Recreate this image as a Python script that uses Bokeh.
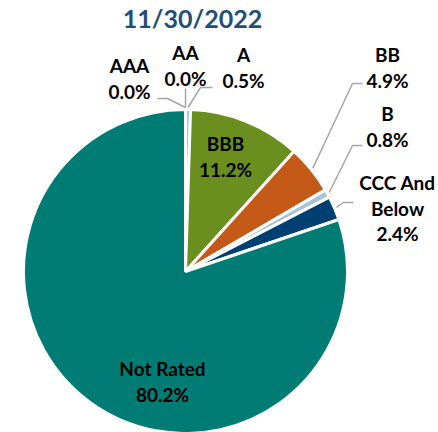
import numpy as np
from bokeh.plotting import figure
from bokeh.models import Range1d, ColumnDataSource
from bokeh.core.properties import value
from bokeh.embed import file_html
from bokeh.resources import INLINE

# ---- data ----
title_text = "11/30/2022"
categories = ["AAA", "AA", "A", "BBB", "BB", "B", "CCC And Below", "Not Rated"]
label_lines = [["AAA"], ["AA"], ["A"], ["BBB"], ["BB"], ["B"], ["CCC And", "Below"], ["Not Rated"]]
values = [0.0, 0.0, 0.5, 11.2, 4.9, 0.8, 2.4, 80.2]

# ---- styles / layout ----
colors = ["#1F6F8B", "#5B9BD5", "#9DC3E6", "#6A8F1E", "#C55A18", "#A8C2D6", "#003F72", "#007C75"]
W, H = 438, 432
def Y(py):
    return H - py

cx, cy, R = 185, Y(271), 162
FONT = "Lato"
TXT = "#000000"

# label layout: (center x, first line center y, picture coords), and leader (end, elbow)
label_pos = {
    "AAA": (129, 65),
    "AA": (185, 52),
    "A": (243, 54),
    "BBB": (225, 143),
    "BB": (387, 54),
    "B": (387, 113),
    "CCC And Below": (397, 182),
    "Not Rated": (162, 368),
}
leaders = {
    "AAA": ((157, 98), (167, 98)),
    "AA": ((185, 88), (185, 88)),
    "A": ((212, 87), (200, 87)),
    "BB": ((362, 83), (352, 83)),
    "B": ((362, 145), (352, 145)),
    "CCC And Below": ((353, 202), (343, 202)),
}
LINE_GAP = 25.5

p = figure(width=W, height=H, output_backend="svg", toolbar_location=None,
           x_range=Range1d(0, W), y_range=Range1d(0, H),
           min_border=0, outline_line_color=None, background_fill_color="white")
p.axis.visible = False
p.grid.visible = False

# ---- pie ----
vals = np.array(values)
total = vals.sum()
cum = np.concatenate([[0], np.cumsum(vals)]) / total
starts = np.pi / 2 - 2 * np.pi * cum[:-1]
ends = np.pi / 2 - 2 * np.pi * cum[1:]
mids = (starts + ends) / 2
mask = vals > 0
src = ColumnDataSource(dict(start=starts[mask], end=ends[mask],
                            color=[c for c, m in zip(colors, mask) if m]))
p.wedge(x=cx, y=cy, radius=R, start_angle="start", end_angle="end", direction="clock",
        fill_color="color", line_color="white", line_width=3, source=src)

# ---- title ----
p.text(x=[192], y=[Y(17)], text=[title_text], text_font=value(FONT), text_font_style="bold",
       text_font_size="25px", text_color="#1F4E79", text_align="center", text_baseline="middle")

# ---- leader lines ----
xs, ys = [], []
for i, cat in enumerate(categories):
    if cat not in leaders:
        continue
    (ex, ey), (bx, by) = leaders[cat]
    sx = cx + (R + 2) * np.cos(mids[i])
    sy = cy + (R + 2) * np.sin(mids[i])
    xs.append([ex, bx, sx])
    ys.append([Y(ey), Y(by), sy])
p.multi_line(xs=xs, ys=ys, line_color="#A6A6A6", line_width=1.5)

# ---- labels ----
lx, ly, lt = [], [], []
for i, cat in enumerate(categories):
    x0, y0 = label_pos[cat]
    lines = label_lines[i] + [f"{values[i]:.1f}%"]
    for k, t in enumerate(lines):
        lx.append(x0)
        ly.append(Y(y0 + k * LINE_GAP))
        lt.append(t)
p.text(x=lx, y=ly, text=lt, text_font=value(FONT), text_font_style="bold",
       text_font_size="19px", text_color=TXT, text_align="center", text_baseline="middle")

open("out.html", "w").write(file_html(p, INLINE))
